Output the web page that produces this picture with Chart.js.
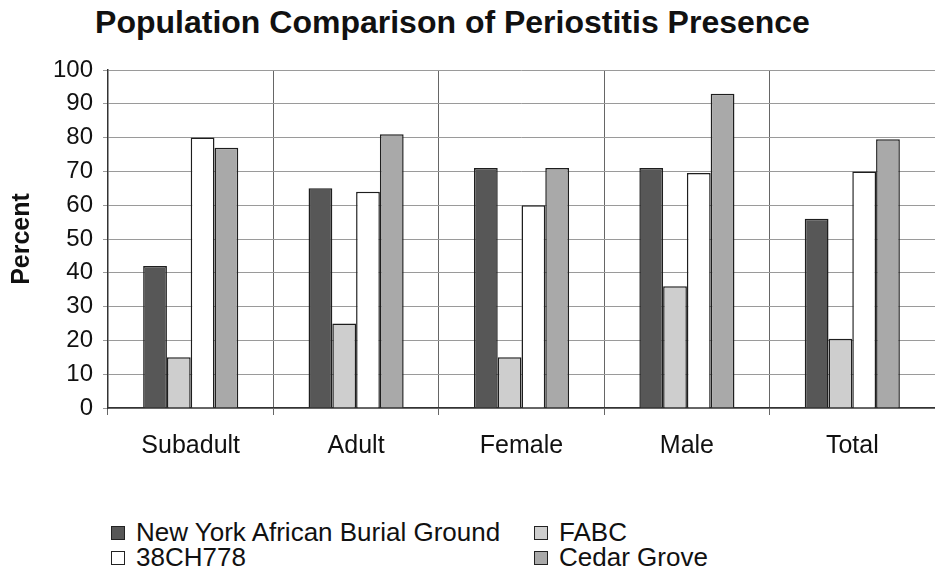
<!DOCTYPE html>
<html>
<head>
<meta charset="utf-8">
<script src="https://cdn.jsdelivr.net/npm/chart.js@4"></script>
<style>
  body { margin: 0; background: #fff; font-family: "Liberation Sans", Arial, sans-serif; }
  #wrap { position: relative; width: 935px; height: 573px; overflow: hidden; }
  #title { position: absolute; top: 4px; left: 0; width: 905px; text-align: center;
           font-weight: bold; font-size: 32px; color: #111; }
  #chartBox { position: absolute; top: 0; left: 0; width: 935px; height: 480px; }
  #legend { position: absolute; top: 520px; left: 111px; display: grid;
            grid-template-columns: 423px 300px; row-gap: 0; font-size: 26px; color: #111; }
  .item { display: flex; align-items: center; height: 25px; }
  .box { width: 12px; height: 12px; border: 1px solid #222; margin-right: 11px; }
</style>
</head>
<body>
<div id="wrap">
  <div id="title">Population Comparison of Periostitis Presence</div>
  <div id="chartBox"><canvas id="chart"></canvas></div>
  <div id="legend"></div>
</div>
<script>
// categories and series (percent)
const categories = ['Subadult', 'Adult', 'Female', 'Male', 'Total'];
const nyabg = [42, 65, 71, 71, 56];
const fabc = [15, 25, 15, 36, 20.5];
const ch778 = [80, 64, 60, 69.5, 70];
const cedarGrove = [77, 81, 71, 93, 79.5];
const yTicks = [0, 10, 20, 30, 40, 50, 60, 70, 80, 90, 100];

const series = [
  { label: 'New York African Burial Ground', data: nyabg, color: '#575757' },
  { label: 'FABC', data: fabc, color: '#cecece' },
  { label: '38CH778', data: ch778, color: '#ffffff' },
  { label: 'Cedar Grove', data: cedarGrove, color: '#a9a9a9' }
];

const ctx = document.getElementById('chart').getContext('2d');
new Chart(ctx, {
  type: 'bar',
  data: {
    labels: categories,
    datasets: series.map(s => ({
      label: s.label,
      data: s.data,
      backgroundColor: s.color,
      borderColor: '#1e1e1e',
      borderWidth: 1.5,
      barPercentage: 1,
      categoryPercentage: 0.575
    }))
  },
  options: {
    responsive: true,
    maintainAspectRatio: false,
    animation: false,
    layout: { padding: { top: 70, right: 0, bottom: 0, left: 0 } },
    plugins: {
      legend: { display: false },
      tooltip: { enabled: false }
    },
    scales: {
      x: {
        grid: { color: '#666', lineWidth: 1, tickLength: 7, offset: true },
        border: { color: '#333', width: 1.5 },
        ticks: { color: '#111', padding: 16, font: { family: 'Liberation Sans', size: 25 } },
        afterFit: scale => { scale.height = 72; }
      },
      y: {
        min: 0,
        max: 100,
        afterBuildTicks: scale => { scale.ticks = yTicks.map(v => ({ value: v })); },
        grid: { color: '#9a9a9a', lineWidth: 1, tickLength: 5 },
        border: { color: '#333', width: 1.5 },
        ticks: { color: '#111', padding: 10, font: { family: 'Liberation Sans', size: 24 } },
        title: {
          display: true,
          text: 'Percent',
          color: '#111',
          padding: { top: 7, bottom: 0 },
          font: { family: 'Liberation Sans', size: 25, weight: 'bold' }
        },
        afterFit: scale => { scale.width = 108; }
      }
    }
  }
});

// legend in two columns, like the original
const legend = document.getElementById('legend');
[0, 1, 2, 3].forEach(i => {
  const s = series[i];
  const el = document.createElement('div');
  el.className = 'item';
  el.innerHTML = '<span class="box" style="background:' + s.color + '"></span>' + s.label;
  legend.appendChild(el);
});
</script>
</body>
</html>
